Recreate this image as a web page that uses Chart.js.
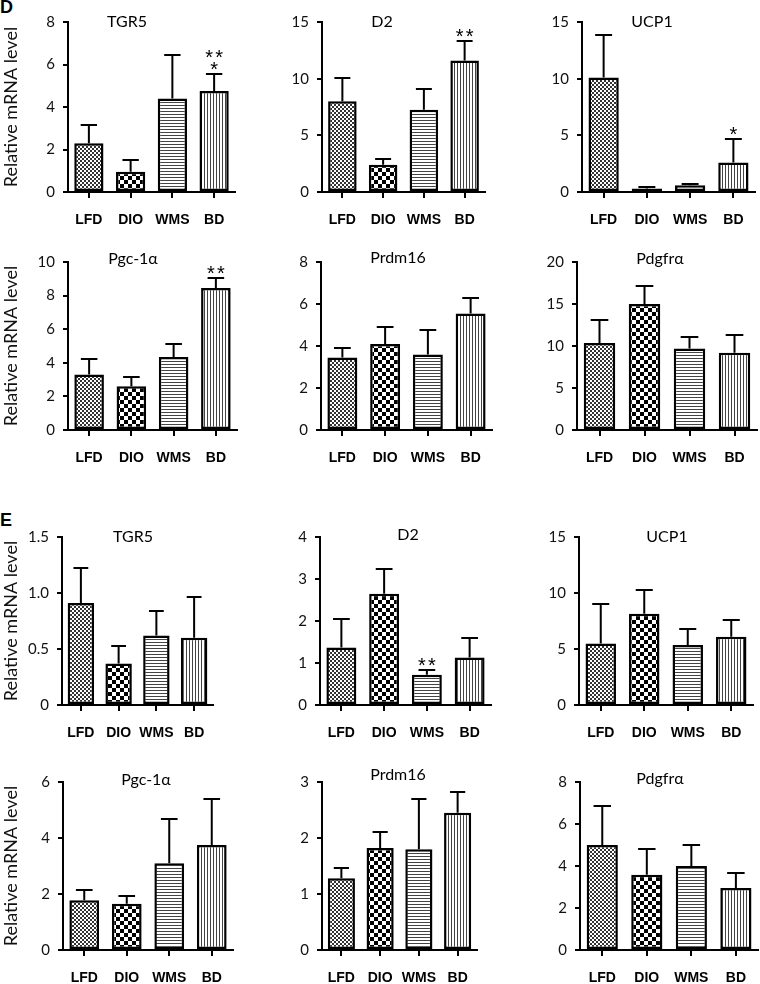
<!DOCTYPE html>
<html>
<head>
<meta charset="utf-8">
<script src="https://cdn.jsdelivr.net/npm/chart.js@4.4.1/dist/chart.umd.min.js"></script>
<style>
body { margin: 0; background: #fff; }
#fig { position: relative; width: 760px; height: 984px; overflow: hidden; }
#fig canvas { position: absolute; }
.panel { position: absolute; font: bold 18px "Liberation Sans", Arial, sans-serif; color: #000; }
</style>
</head>
<body>
<div id="fig">
  <div class="panel" style="left:0px;top:-3px">D</div>
  <div class="panel" style="left:0px;top:510px">E</div>
</div>
<script>
const groups = ['LFD', 'DIO', 'WMS', 'BD'];

// panel D
const dGenes = ['TGR5', 'D2', 'UCP1', 'Pgc-1α', 'Prdm16', 'Pdgfrα'];
const dMax = [8, 15, 15, 10, 8, 20];
const dStep = [2, 5, 5, 2, 2, 5];
const dTgr5 = [2.3, 0.95, 4.4, 4.75];
const dTgr5Sem = [0.85, 0.57, 2.05, 0.8];
const dD2 = [8.0, 2.4, 7.25, 11.6];
const dD2Sem = [2.1, 0.55, 1.8, 1.75];
const dUcp1 = [10.1, 0.3, 0.6, 2.6];
const dUcp1Sem = [3.75, 0.15, 0.15, 2.05];
const dPgc = [3.3, 2.6, 4.35, 8.45];
const dPgcSem = [0.9, 0.55, 0.75, 0.6];
const dPrdm16 = [3.45, 4.1, 3.6, 5.55];
const dPrdm16Sem = [0.45, 0.8, 1.15, 0.75];
const dPdgfr = [10.35, 15.0, 9.7, 9.2];
const dPdgfrSem = [2.7, 2.2, 1.4, 2.1];
const dStars = [
  [[], [], [], ['**', '*']],
  [[], [], [], ['**']],
  [[], [], [], ['*']],
  [[], [], [], ['**']],
  [[], [], [], []],
  [[], [], [], []]
];

// panel E
const eGenes = ['TGR5', 'D2', 'UCP1', 'Pgc-1α', 'Prdm16', 'Pdgfrα'];
const eMax = [1.5, 4, 15, 6, 3, 8];
const eStep = [0.5, 1, 5, 2, 1, 2];
const eTgr5 = [0.91, 0.37, 0.62, 0.6];
const eTgr5Sem = [0.31, 0.16, 0.22, 0.36];
const eD2 = [1.37, 2.65, 0.72, 1.13];
const eD2Sem = [0.68, 0.6, 0.12, 0.47];
const eUcp1 = [5.5, 8.15, 5.35, 6.1];
const eUcp1Sem = [3.55, 2.1, 1.45, 1.5];
const ePgc = [1.78, 1.65, 3.1, 3.75];
const ePgcSem = [0.37, 0.28, 1.58, 1.65];
const ePrdm16 = [1.28, 1.82, 1.8, 2.45];
const ePrdm16Sem = [0.19, 0.28, 0.9, 0.37];
const ePdgfr = [5.0, 3.58, 4.0, 2.95];
const ePdgfrSem = [1.88, 1.22, 1.02, 0.7];
const eStars = [
  [[], [], [], []],
  [[], [], ['**'], []],
  [[], [], [], []],
  [[], [], [], []],
  [[], [], [], []],
  [[], [], [], []]
];

const yTitle = 'Relative mRNA level';

// where each small chart sits on the page
// [canvasLeft, canvasTop, canvasW, canvasH, axisLeft, axisRight, topY, zeroY, titleX, titleY]
const boxes = [
  [0, 0, 250, 232, 68, 235, 22, 192, 127, 22],
  [250, 0, 250, 232, 322, 485, 22, 192, 382, 22],
  [500, 0, 260, 232, 582, 755, 22, 192, 652, 22],
  [0, 232, 250, 238, 68, 237, 262, 430, 133, 259],
  [250, 232, 250, 238, 321, 492, 262, 430, 398, 258],
  [500, 232, 260, 238, 577, 757, 262, 430, 660, 259],
  [0, 480, 250, 265, 62, 213, 537, 705, 133, 537],
  [250, 480, 250, 265, 320, 491, 537, 705, 408, 535],
  [500, 480, 260, 265, 579, 753, 537, 705, 667, 537],
  [0, 745, 250, 245, 63, 233, 782, 950, 146, 780],
  [250, 745, 250, 245, 322, 477, 782, 950, 398, 775],
  [500, 745, 260, 245, 580, 760, 782, 950, 660, 779]
];
const xAxisH = 40;

function tile(w, h, draw) {
  const c = document.createElement('canvas');
  c.width = w;
  c.height = h;
  const g = c.getContext('2d');
  g.fillStyle = '#fff';
  g.fillRect(0, 0, w, h);
  draw(g);
  return g.createPattern(c, 'repeat');
}

const fills = [
  // LFD: fine checker
  tile(4, 4, g => { g.fillStyle = '#333'; g.fillRect(0, 0, 2, 2); g.fillRect(2, 2, 2, 2); }),
  // DIO: coarse checker
  tile(8, 8, g => { g.fillStyle = '#000'; g.fillRect(0, 0, 4, 4); g.fillRect(4, 4, 4, 4); }),
  // WMS: horizontal lines
  tile(3, 3, g => { g.fillStyle = '#444'; g.fillRect(0, 0, 3, 1); }),
  // BD: vertical lines
  tile(3, 3, g => { g.fillStyle = '#444'; g.fillRect(0, 0, 1, 3); })
];

function makeChart(idx, gene, mean, sem, stars, max, step) {
  const [cl, ct, cw, ch, L, R, T, Z, tx, ty] = boxes[idx];
  const canvas = document.createElement('canvas');
  canvas.width = cw;
  canvas.height = ch;
  canvas.style.left = cl + 'px';
  canvas.style.top = ct + 'px';
  document.getElementById('fig').appendChild(canvas);
  const firstCol = idx % 3 === 0;

  const extras = {
    id: 'extras' + idx,
    afterDatasetsDraw(chart) {
      const ctx = chart.ctx;
      const y = chart.scales.y;
      const bars = chart.getDatasetMeta(0).data;
      ctx.save();
      ctx.strokeStyle = '#000';
      ctx.fillStyle = '#000';
      ctx.lineWidth = 2;
      bars.forEach((bar, i) => {
        const top = Math.round(y.getPixelForValue(mean[i] + sem[i]));
        const cap = bar.width * 0.28;
        ctx.beginPath();
        ctx.moveTo(bar.x, bar.y);
        ctx.lineTo(bar.x, top);
        ctx.moveTo(bar.x - cap, top);
        ctx.lineTo(bar.x + cap, top);
        ctx.stroke();
        // significance marks, one asterisk at a time so the gap matches
        const lines = stars[i];
        ctx.font = '20px "Liberation Sans", Arial, sans-serif';
        ctx.textAlign = 'center';
        ctx.textBaseline = 'alphabetic';
        lines.forEach((s, k) => {
          const fromBottom = lines.length - 1 - k;
          const by = top + 2 - fromBottom * 12;
          const n = s.length;
          for (let j = 0; j < n; j++) {
            ctx.fillText('*', bar.x + (j - (n - 1) / 2) * 10, by);
          }
        });
      });
      ctx.font = '16px Lato, sans-serif';
      ctx.textAlign = 'center';
      ctx.textBaseline = 'middle';
      ctx.fillText(gene, tx - cl, ty - ct);
      ctx.restore();
    }
  };

  return new Chart(canvas.getContext('2d'), {
    type: 'bar',
    data: {
      labels: groups,
      datasets: [{
        data: mean,
        backgroundColor: fills,
        borderColor: '#000',
        borderWidth: 2.5,
        borderSkipped: false,
        barPercentage: 0.7,
        categoryPercentage: 1.0
      }]
    },
    options: {
      responsive: false,
      animation: false,
      layout: {
        padding: { left: 0, top: T - ct, right: cl + cw - R, bottom: ct + ch - Z - xAxisH }
      },
      plugins: { legend: { display: false }, tooltip: { enabled: false }, title: { display: false } },
      scales: {
        x: {
          afterFit: s => { s.height = xAxisH; },
          grid: { display: true, drawOnChartArea: false, drawTicks: true, tickLength: 6, offset: false, color: '#000', lineWidth: 2 },
          border: { display: true, color: '#000', width: 2 },
          ticks: {
            color: '#000',
            padding: 14,
            maxRotation: 0,
            minRotation: 0,
            autoSkip: false,
            font: { family: '"Liberation Sans", Arial, sans-serif', size: 14, weight: 'bold' }
          }
        },
        y: {
          min: 0,
          max: max,
          afterFit: s => { s.width = L - cl; },
          grid: { display: true, drawOnChartArea: false, drawTicks: true, tickLength: 5, color: '#000', lineWidth: 2 },
          border: { display: true, color: '#000', width: 2 },
          ticks: {
            stepSize: step,
            color: '#111',
            padding: 8,
            font: { family: 'Lato, sans-serif', size: 15 },
            callback: v => (Number.isInteger(step) || v === 0) ? String(v) : v.toFixed(1)
          },
          title: {
            display: firstCol,
            text: yTitle,
            color: '#111',
            padding: 0,
            font: { family: 'Lato, sans-serif', size: 18 }
          }
        }
      }
    },
    plugins: [extras]
  });
}

makeChart(0, dGenes[0], dTgr5, dTgr5Sem, dStars[0], dMax[0], dStep[0]);
makeChart(1, dGenes[1], dD2, dD2Sem, dStars[1], dMax[1], dStep[1]);
makeChart(2, dGenes[2], dUcp1, dUcp1Sem, dStars[2], dMax[2], dStep[2]);
makeChart(3, dGenes[3], dPgc, dPgcSem, dStars[3], dMax[3], dStep[3]);
makeChart(4, dGenes[4], dPrdm16, dPrdm16Sem, dStars[4], dMax[4], dStep[4]);
makeChart(5, dGenes[5], dPdgfr, dPdgfrSem, dStars[5], dMax[5], dStep[5]);
makeChart(6, eGenes[0], eTgr5, eTgr5Sem, eStars[0], eMax[0], eStep[0]);
makeChart(7, eGenes[1], eD2, eD2Sem, eStars[1], eMax[1], eStep[1]);
makeChart(8, eGenes[2], eUcp1, eUcp1Sem, eStars[2], eMax[2], eStep[2]);
makeChart(9, eGenes[3], ePgc, ePgcSem, eStars[3], eMax[3], eStep[3]);
makeChart(10, eGenes[4], ePrdm16, ePrdm16Sem, eStars[4], eMax[4], eStep[4]);
makeChart(11, eGenes[5], ePdgfr, ePdgfrSem, eStars[5], eMax[5], eStep[5]);
</script>
</body>
</html>
